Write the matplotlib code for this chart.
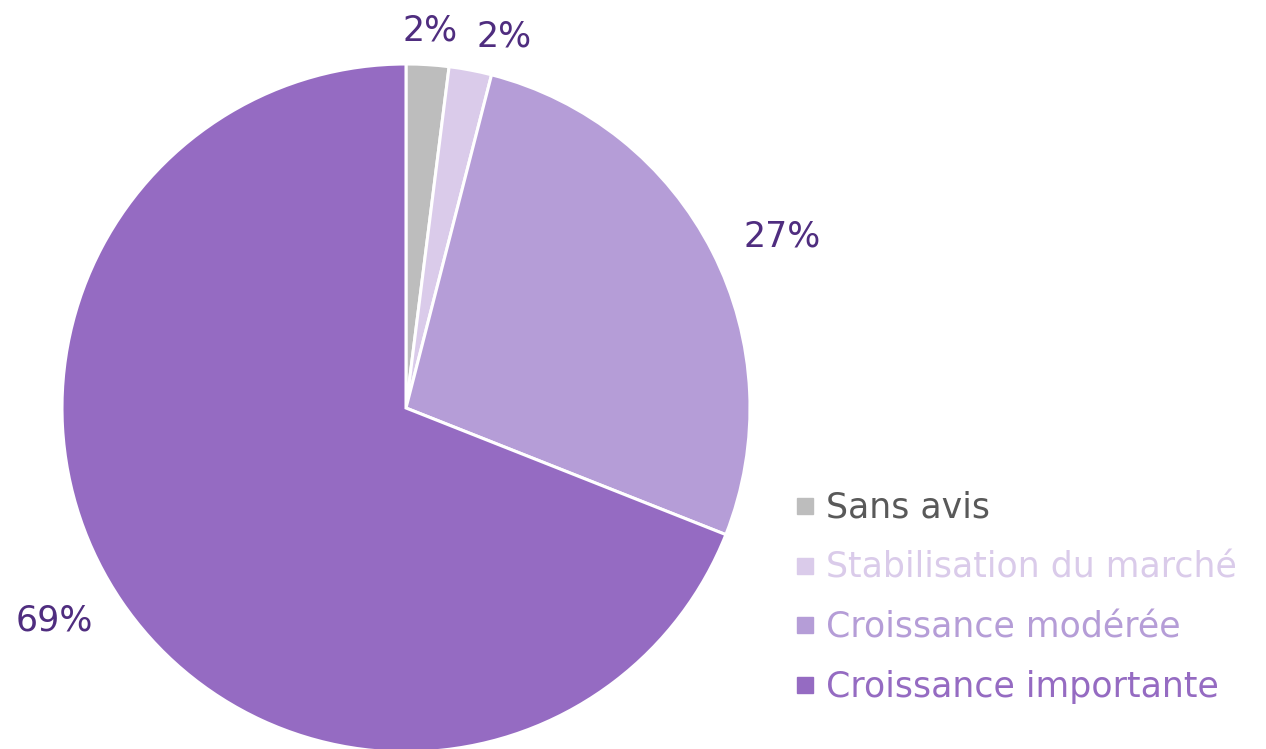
import matplotlib
matplotlib.use("Agg")
import matplotlib.pyplot as plt
from matplotlib.lines import Line2D

categories = ["Sans avis", "Stabilisation du marché", "Croissance modérée", "Croissance importante"]
values = [2, 2, 27, 69]
labels = ["2%", "2%", "27%", "69%"]
colors = ["#BDBDBD", "#DACBEA", "#B59DD7", "#956BC2"]
legend_text_colors = ["#595959", "#DACBEA", "#B59DD7", "#956BC2"]

plt.rcParams["font.family"] = ["DejaVu Sans"]

W, H = 1266, 749
fig = plt.figure(figsize=(W / 100, H / 100), dpi=100)
ax = fig.add_axes([0, 0, 1, 1])

cx, cy, r = 406, H - 408, 344
wedges, texts = ax.pie(values, labels=labels, colors=colors, startangle=90,
                       counterclock=False, center=(cx, cy), radius=r, frame=True,
                       labeldistance=1.1,
                       textprops=dict(fontsize=25, color="#4F2D7F"),
                       wedgeprops=dict(edgecolor="white", linewidth=2.2))
# alignment by side of the pie (pie() uses absolute x because of the offset centre)
for t in texts:
    t.set_ha("left" if t.get_position()[0] >= cx else "right")
texts[0].set_ha("center")
ax.set_xlim(0, W)
ax.set_ylim(0, H)
ax.set_aspect("equal")
ax.axis("off")

handles = [Line2D([], [], marker="s", linestyle="none", markersize=11,
                  markerfacecolor=c, markeredgecolor=c) for c in colors]
fig.legend(handles, categories, loc="upper left",
           bbox_to_anchor=(795 / W, 1 - 491 / H), frameon=False,
           fontsize=25, labelcolor=legend_text_colors,
           handlelength=0.6, handletextpad=0.3, labelspacing=0.74,
           borderaxespad=0, borderpad=0)

fig.savefig("out.png", dpi=100)
